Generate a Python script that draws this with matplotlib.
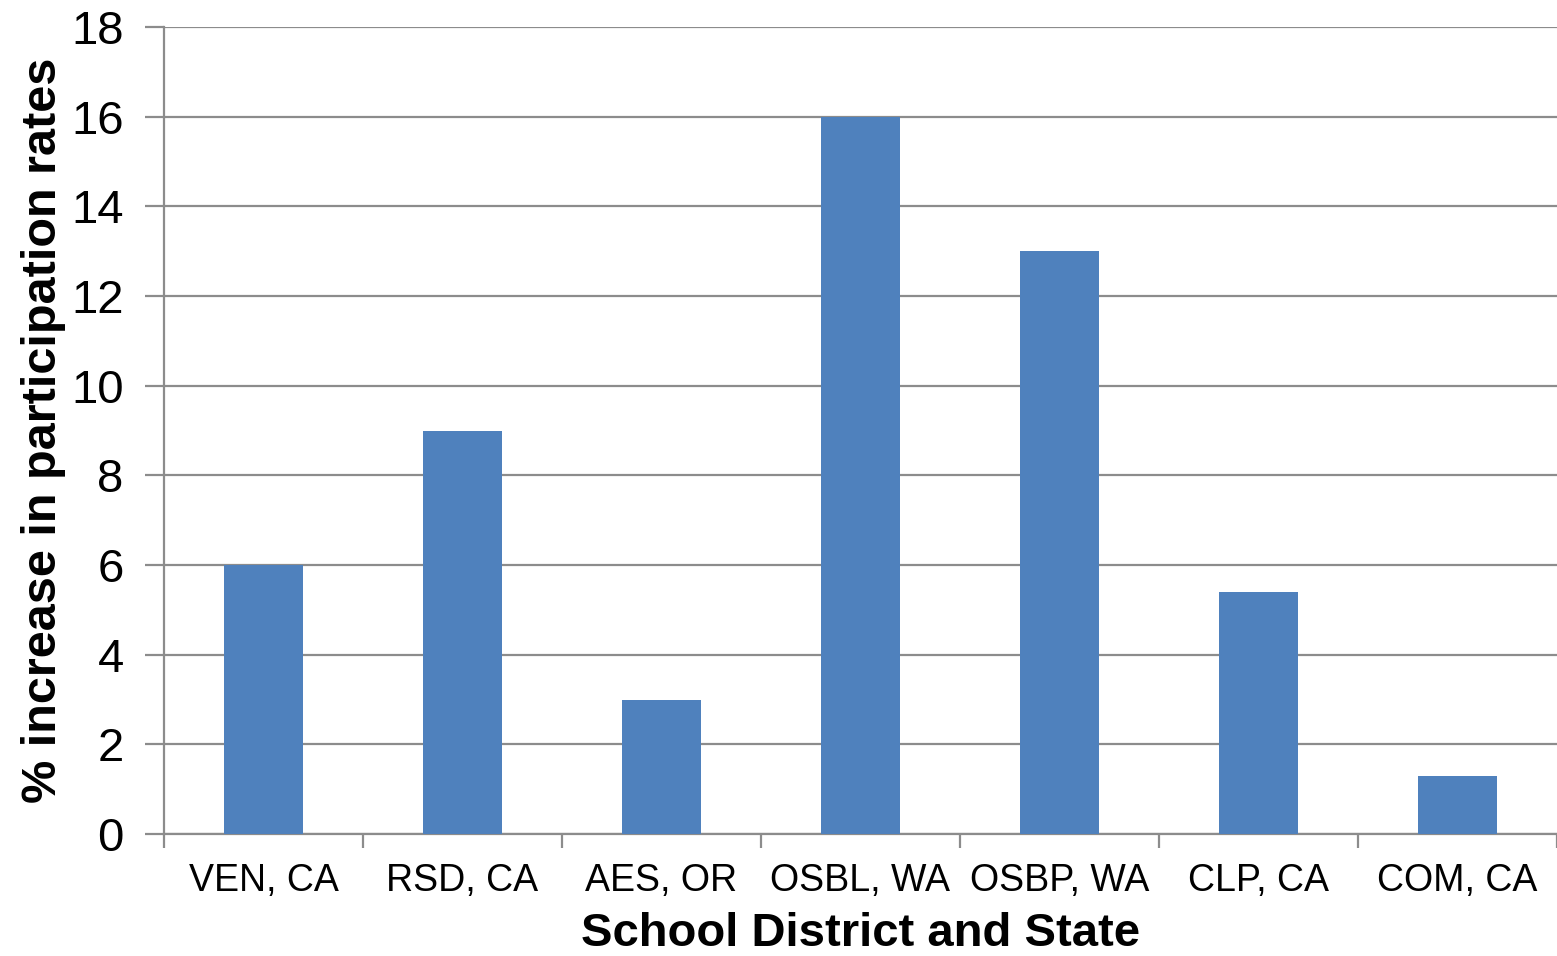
import matplotlib.pyplot as plt

districts = ["VEN, CA", "RSD, CA", "AES, OR", "OSBL, WA", "OSBP, WA", "CLP, CA", "COM, CA"]
increase = [6, 9, 3, 16, 13, 5.4, 1.3]
yticks = [0, 2, 4, 6, 8, 10, 12, 14, 16, 18]

plt.rcParams['font.family'] = ['Liberation Sans', 'DejaVu Sans']

fig = plt.figure(figsize=(15.57, 9.56), dpi=100)
ax = fig.add_axes([164 / 1557, 1 - 834 / 956, (1557 - 164) / 1557, (834 - 27) / 956])

grey = '#8c8c8c'
x = list(range(len(districts)))
ax.bar(x, increase, width=0.4, color='#4F81BD', zorder=3)

ax.set_xlim(-0.5, len(districts) - 0.5)
ax.set_ylim(0, 18)
ax.set_yticks(yticks)
ax.set_yticklabels([str(t) for t in yticks], fontsize=34)
ax.yaxis.grid(True, color=grey, linewidth=1.6, zorder=0)
ax.tick_params(axis='y', length=14, width=1.6, color=grey, pad=15)

# category labels centred, ticks on the boundaries
ax.set_xticks(x)
ax.set_xticklabels(districts, fontsize=27)
ax.set_xticks([i - 0.5 for i in range(len(districts) + 1)], minor=True)
ax.tick_params(axis='x', which='major', length=0, pad=21)
ax.tick_params(axis='x', which='minor', length=10, width=1.6, color=grey)

for side in ['top', 'right']:
    ax.spines[side].set_visible(False)
ax.spines['left'].set_color(grey)
ax.spines['bottom'].set_color(grey)
ax.spines['left'].set_linewidth(1.6)
ax.spines['bottom'].set_linewidth(1.6)

ax.set_xlabel('School District and State', fontsize=34, fontweight='bold', labelpad=9)
ax.set_ylabel('% increase in participation rates', fontsize=35, fontweight='bold', labelpad=4)

fig.savefig('out.png', dpi=100)
